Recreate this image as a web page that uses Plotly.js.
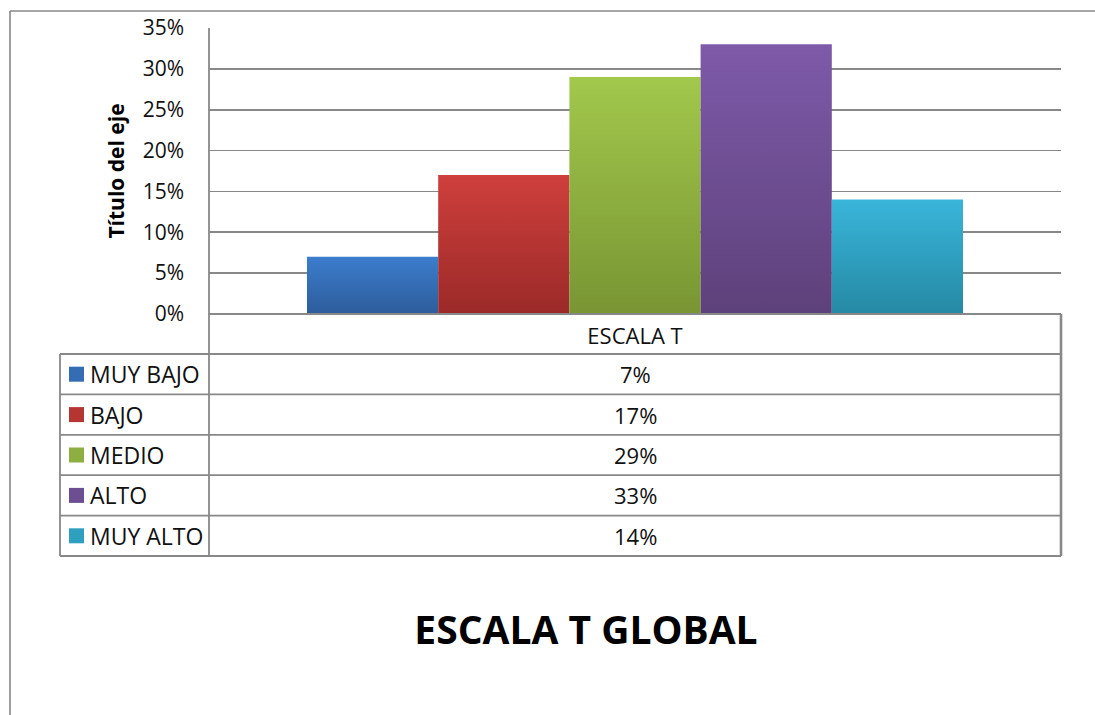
<!DOCTYPE html>
<html>
<head>
<meta charset="utf-8">
<script src="https://cdn.plot.ly/plotly-3.0.1.min.js"></script>
<style>
  html, body { margin: 0; padding: 0; background: #ffffff; }
  #chart { width: 1095px; height: 715px; }
</style>
</head>
<body>
<div id="chart"></div>
<script>
// ---- data ----
const categories = ['ESCALA T'];
const seriesNames = ['MUY BAJO', 'BAJO', 'MEDIO', 'ALTO', 'MUY ALTO'];
const seriesValues = [0.07, 0.17, 0.29, 0.33, 0.14];
const yTickVals = [0, 0.05, 0.10, 0.15, 0.20, 0.25, 0.30, 0.35];
const yTickText = ['0%', '5%', '10%', '15%', '20%', '25%', '30%', '35%'];
const chartTitle = 'ESCALA T GLOBAL';
const yAxisTitle = 'Título del eje';

// ---- styles ----
const colorsTop = ['#3C7DCD', '#CE3F3C', '#A2C84C', '#7E5AA9', '#39B5DA'];
const colorsBot = ['#2D5D9B', '#9B2A28', '#789533', '#5D417A', '#2589A4'];
const colorsMid = ['#356DB4', '#B53532', '#8DAF40', '#6E4E92', '#2F9FC0'];
const FONT = 'Open Sans, Noto Sans, sans-serif';
const LINE = '#888888';

// pixel frame of plot area
const L = 209, R = 1061, T = 28, B = 314;
const W = R - L, H = B - T;
const px = x => (x - L) / W;
const py = y => (B - y) / H;

const traces = seriesNames.map((name, i) => ({
  type: 'bar',
  name: name,
  x: categories,
  y: [seriesValues[i]],
  marker: { color: colorsMid[i], line: { width: 0 } },
  hoverinfo: 'skip',
  showlegend: false
}));

const shapes = [];
const annotations = [];
function hline(x0, x1, y, w) {
  shapes.push({ type: 'line', xref: 'paper', yref: 'paper', x0: px(x0), x1: px(x1), y0: py(y), y1: py(y),
    line: { color: LINE, width: w || 1.6 }, layer: 'above' });
}
function vline(x, y0, y1, w) {
  shapes.push({ type: 'line', xref: 'paper', yref: 'paper', x0: px(x), x1: px(x), y0: py(y0), y1: py(y1),
    line: { color: LINE, width: w || 1.6 }, layer: 'above' });
}

// outer chart border (left and top)
vline(10, 11, 720, 1.6);
hline(10, 1100, 11, 1.6);

// table
const rowTop = 354, rowH = 40.4;
const tableLeft = 60;
hline(L, R, B, 1.8);
vline(L, T, rowTop + rowH * seriesNames.length, 1.8);
vline(R, B, rowTop + rowH * seriesNames.length, 2.6);
vline(tableLeft, rowTop, rowTop + rowH * seriesNames.length, 1.8);
for (let i = 0; i <= seriesNames.length; i++) {
  hline(tableLeft, R, rowTop + rowH * i, 1.8);
}
seriesNames.forEach((name, i) => {
  const yc = rowTop + rowH * i + rowH / 2;
  shapes.push({ type: 'rect', xref: 'paper', yref: 'paper',
    x0: px(69), x1: px(84), y0: py(yc - 7.5), y1: py(yc + 7.5),
    fillcolor: colorsMid[i], line: { width: 0 }, layer: 'above' });
  annotations.push({ xref: 'paper', yref: 'paper', x: px(88), y: py(yc), xanchor: 'left', yanchor: 'middle',
    text: name, showarrow: false, font: { family: FONT, size: 23, color: '#111' } });
  annotations.push({ xref: 'paper', yref: 'paper', x: px((L + R) / 2), y: py(yc), xanchor: 'center', yanchor: 'middle',
    text: Math.round(seriesValues[i] * 100) + '%', showarrow: false, font: { family: FONT, size: 22, color: '#111' } });
});

const layout = {
  width: 1095, height: 715,
  paper_bgcolor: '#ffffff', plot_bgcolor: '#ffffff',
  margin: { l: L, r: 1095 - R, t: T, b: 715 - B, pad: 0 },
  barmode: 'group',
  bargap: 0.23,
  bargroupgap: 0,
  title: {
    text: chartTitle,
    x: 586 / 1095, xanchor: 'center', xref: 'container',
    y: 1 - 630 / 715, yanchor: 'middle', yref: 'container',
    font: { family: FONT, size: 39, color: '#000', weight: 'bold' }
  },
  xaxis: {
    showgrid: false, zeroline: false, showline: false,
    ticks: '', ticklabelstandoff: 7,
    tickfont: { family: FONT, size: 22, color: '#111' },
    fixedrange: true
  },
  yaxis: {
    range: [0, 0.35],
    tickvals: yTickVals, ticktext: yTickText,
    showgrid: true, gridcolor: LINE, gridwidth: 1.6,
    zeroline: false, showline: false,
    ticks: '', ticklabelstandoff: 24,
    tickfont: { family: FONT, size: 21, color: '#111' },
    title: { text: yAxisTitle, standoff: 12, font: { family: FONT, size: 21, color: '#000', weight: 'bold' } },
    automargin: false,
    fixedrange: true
  },
  shapes: shapes,
  annotations: annotations
};

Plotly.newPlot('chart', traces, layout, { displayModeBar: false, staticPlot: true }).then(gd => {
  // apply vertical gradients to bars and legend swatches
  const svg = gd.querySelector('svg.main-svg');
  const ns = 'http://www.w3.org/2000/svg';
  let defs = svg.querySelector('defs');
  if (!defs) { defs = document.createElementNS(ns, 'defs'); svg.insertBefore(defs, svg.firstChild); }
  colorsTop.forEach((c, i) => {
    const g = document.createElementNS(ns, 'linearGradient');
    g.setAttribute('id', 'bargrad' + i);
    g.setAttribute('x1', '0'); g.setAttribute('y1', '0'); g.setAttribute('x2', '0'); g.setAttribute('y2', '1');
    const s1 = document.createElementNS(ns, 'stop'); s1.setAttribute('offset', '0'); s1.setAttribute('stop-color', c);
    const s2 = document.createElementNS(ns, 'stop'); s2.setAttribute('offset', '1'); s2.setAttribute('stop-color', colorsBot[i]);
    g.appendChild(s1); g.appendChild(s2); defs.appendChild(g);
  });
  gd.querySelectorAll('.barlayer .trace').forEach((tr, i) => {
    tr.querySelectorAll('path').forEach(p => { p.style.fill = 'url(#bargrad' + i + ')'; });
  });
  const rects = [];
  gd.querySelectorAll('.shapelayer path').forEach(p => {
    const fill = p.style.fill;
    if (fill && fill !== 'none' && !fill.startsWith('rgba(0, 0, 0, 0)')) rects.push(p);
  });
  rects.forEach((p, i) => { if (i < colorsTop.length) p.style.fill = 'url(#bargrad' + i + ')'; });
});
</script>
</body>
</html>
